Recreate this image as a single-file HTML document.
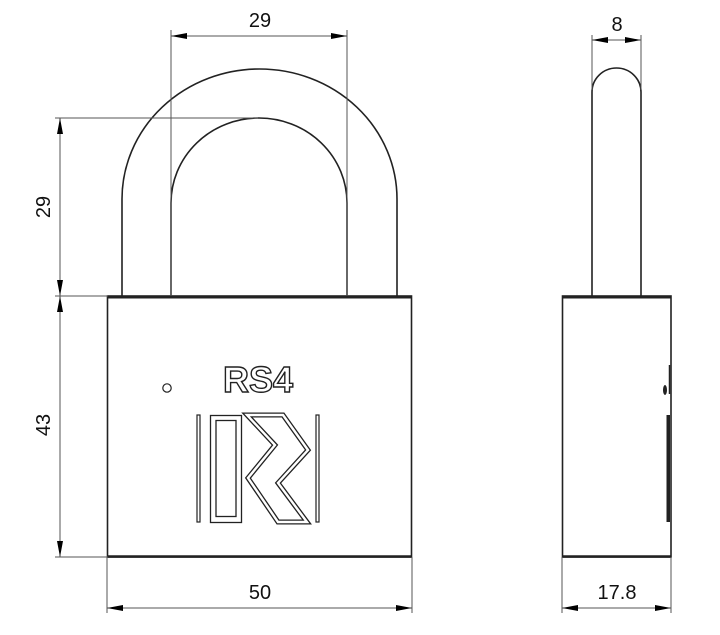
<!DOCTYPE html>
<html><head><meta charset="utf-8"><style>html,body{margin:0;padding:0;background:#fff}svg{display:block}</style></head>
<body>
<svg width="720" height="635" viewBox="0 0 720 635" xmlns="http://www.w3.org/2000/svg" font-family="Liberation Sans, sans-serif">
<defs>
<marker id="a" viewBox="0 0 16 6" refX="16" refY="3" markerWidth="16" markerHeight="6" markerUnits="userSpaceOnUse" orient="auto-start-reverse"><path d="M0,0L16,3L0,6z" fill="#000"/></marker>
</defs>
<g fill="none" stroke="#222" stroke-width="1.6">
<path d="M122,296 L122,199 A137.5,130 0 0 1 397,199 L397,296"/>
<path d="M171,296 L171,203 A88,85 0 0 1 347,203 L347,296"/>
<rect x="107.5" y="296" width="304" height="261"/>
<line x1="107" y1="297.5" x2="412" y2="297.5" stroke-width="2"/>
<line x1="107" y1="556.5" x2="412" y2="556.5" stroke-width="2.5"/>
<circle cx="167" cy="388" r="4.2" stroke-width="1.2"/>
</g>
<g fill="none" stroke="#222">
<rect x="197" y="415" width="3" height="107" stroke-width="1.2"/>
<rect x="316" y="415" width="3" height="107" stroke-width="1.2"/>
<rect x="210.5" y="415.5" width="31" height="107" stroke-width="1.3"/>
<rect x="216" y="420.5" width="20" height="96" stroke-width="1.3"/>
<path d="M247,415 L283,415 L308,450 L278,483 L307,522 L278,522 L248,478 L275,445 Z" stroke-width="5" stroke-linejoin="miter"/>
<path d="M247,415 L283,415 L308,450 L278,483 L307,522 L278,522 L248,478 L275,445 Z" stroke="#fff" stroke-width="2.4" stroke-linejoin="miter"/>
</g>
<text x="258" y="392" font-size="36" font-weight="bold" text-anchor="middle" fill="#fff" stroke="#222" stroke-width="1.4">RS4</text>
<g fill="none" stroke="#222" stroke-width="1.6">
<path d="M592,296 L592,92 A24.5,24 0 0 1 641,92 L641,296"/>
<rect x="562.5" y="296" width="108.5" height="261"/>
<line x1="562" y1="297.5" x2="671" y2="297.5" stroke-width="2"/>
<line x1="562" y1="556.5" x2="671" y2="556.5" stroke-width="2.5"/>
<line x1="669.5" y1="365" x2="669.5" y2="394" stroke-width="1.5"/>
</g>
<ellipse cx="665" cy="390" rx="2" ry="5" fill="#222"/>
<rect x="666.5" y="415" width="3.5" height="107" fill="#222"/>
<g stroke="#555" stroke-width="1" fill="none">
<line x1="171" y1="30" x2="171" y2="296"/>
<line x1="347" y1="30" x2="347" y2="296"/>
<line x1="171" y1="36" x2="347" y2="36" marker-start="url(#a)" marker-end="url(#a)"/>
<line x1="55" y1="118" x2="258" y2="118"/>
<line x1="55" y1="296" x2="108" y2="296"/>
<line x1="55" y1="557" x2="108" y2="557"/>
<line x1="60" y1="118" x2="60" y2="296" marker-start="url(#a)" marker-end="url(#a)"/>
<line x1="60" y1="296" x2="60" y2="557" marker-start="url(#a)" marker-end="url(#a)"/>
<line x1="107" y1="557" x2="107" y2="613"/>
<line x1="412" y1="557" x2="412" y2="613"/>
<line x1="107" y1="608" x2="412" y2="608" marker-start="url(#a)" marker-end="url(#a)"/>
<line x1="592" y1="35" x2="592" y2="90"/>
<line x1="641" y1="35" x2="641" y2="90"/>
<line x1="592" y1="40" x2="641" y2="40" marker-start="url(#a)" marker-end="url(#a)"/>
<line x1="562" y1="557" x2="562" y2="613"/>
<line x1="671" y1="557" x2="671" y2="613"/>
<line x1="562" y1="608" x2="671" y2="608" marker-start="url(#a)" marker-end="url(#a)"/>
</g>
<g font-size="20" fill="#111" text-anchor="middle">
<text x="260" y="27">29</text>
<text x="260" y="599">50</text>
<text x="617" y="31">8</text>
<text x="617" y="599">17.8</text>
<text transform="translate(50,207) rotate(-90)">29</text>
<text transform="translate(50,425) rotate(-90)">43</text>
</g>
</svg>
</body></html>
